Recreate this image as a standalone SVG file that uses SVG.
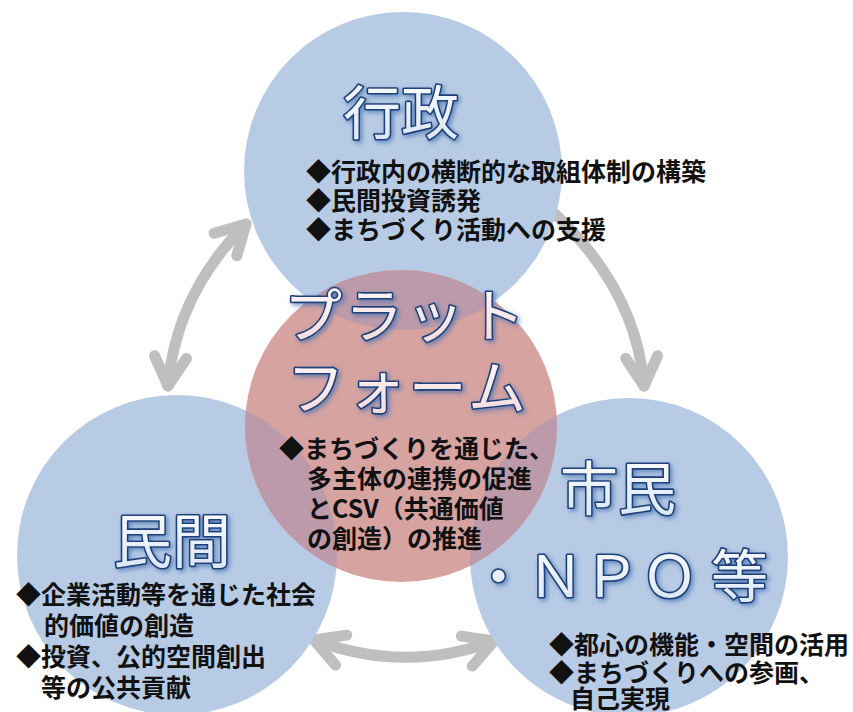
<svg xmlns="http://www.w3.org/2000/svg" width="853" height="712" viewBox="0 0 853 712">
<defs>
<style>
.blue{fill:#b8cbe5;}
.red{fill:#d6a3a1;}
.ov{fill:#bc9aa9;}
.title{font-family:"Noto Sans CJK JP","Noto Sans",sans-serif;font-weight:400;stroke:#1f3f77;stroke-width:3.2;paint-order:stroke;stroke-linejoin:round;filter:url(#glow);}
.tb{fill:url(#gb);}
.tp{fill:url(#gp);}
.body{font-family:"Noto Sans CJK JP","Noto Sans",sans-serif;font-weight:700;font-size:25px;fill:#111;}
.conn{fill:none;stroke:#bfbfbf;stroke-width:11;stroke-linecap:round;}
</style>
<linearGradient id="gb" x1="0" y1="0" x2="0" y2="1">
<stop offset="0" stop-color="#ffffff"/><stop offset="1" stop-color="#d6e4f6"/>
</linearGradient>
<linearGradient id="gp" x1="0" y1="0" x2="0" y2="1">
<stop offset="0" stop-color="#ffffff"/><stop offset="1" stop-color="#f4d6d8"/>
</linearGradient>
<filter id="glow" x="-20%" y="-30%" width="140%" height="160%">
<feGaussianBlur in="SourceAlpha" stdDeviation="2.5" result="b"/>
<feOffset in="b" dx="1.5" dy="2" result="o"/>
<feFlood flood-color="#3f6fb0" flood-opacity="0.75"/>
<feComposite in2="o" operator="in" result="s"/>
<feMerge><feMergeNode in="s"/><feMergeNode in="SourceGraphic"/></feMerge>
</filter>
<clipPath id="redclip"><circle cx="401" cy="426" r="156"/></clipPath>
<marker id="ah" markerUnits="userSpaceOnUse" orient="auto-start-reverse" refX="0" refY="0" markerWidth="80" markerHeight="80" viewBox="-40 -40 80 80" overflow="visible">
<path d="M-29,-16 L0,0 L-29,16" fill="none" stroke="#bfbfbf" stroke-width="11" stroke-linecap="round" stroke-linejoin="round"/>
</marker>
</defs>
<rect width="853" height="712" fill="#ffffff"/>

<g id="connectors">
<path class="conn" d="M168,386 Q176,294 246,224" marker-start="url(#ah)" marker-end="url(#ah)"/>
<path class="conn" d="M545,205 Q636,285 644,386" marker-end="url(#ah)"/>
<path class="conn" d="M314,640 Q405,674 494,641" marker-start="url(#ah)" marker-end="url(#ah)"/>
</g>

<g id="node-gyosei">
<circle class="blue" cx="403" cy="171" r="159"/>
<text class="title tb" x="343" y="134" font-size="58">行政</text>
<text class="body" x="306" y="181">◆行政内の横断的な取組体制の構築</text>
<text class="body" x="306" y="210">◆民間投資誘発</text>
<text class="body" x="306" y="239">◆まちづくり活動への支援</text>
</g>

<g id="node-minkan">
<circle class="blue" cx="177" cy="555" r="160"/>
<text class="title tb" x="113" y="563" font-size="59">民間</text>
<text class="body" x="16" y="604">◆企業活動等を通じた社会</text>
<text class="body" x="44" y="635">的価値の創造</text>
<text class="body" x="16" y="666">◆投資、公的空間創出</text>
<text class="body" x="41" y="697">等の公共貢献</text>
</g>

<g id="node-shimin">
<circle class="blue" cx="629" cy="557" r="159"/>
<text class="title tb" x="560" y="510" font-size="58">市民</text>
<text class="title tb" x="470 527 583 641 711" y="597" font-size="57">・ＮＰＯ等</text>
<text class="body" x="549" y="654">◆都心の機能・空間の活用</text>
<text class="body" x="549" y="682">◆まちづくりへの参画、</text>
<text class="body" x="570" y="708">自己実現</text>
</g>

<g id="node-platform">
<circle class="red" cx="401" cy="426" r="156"/>
<g clip-path="url(#redclip)">
<circle class="ov" cx="403" cy="171" r="159"/>
<circle class="ov" cx="177" cy="555" r="160"/>
<circle class="ov" cx="629" cy="557" r="159"/>
</g>
<text class="title tp" x="406" y="337" font-size="58" text-anchor="middle" letter-spacing="3">プラット</text>
<text class="title tp" x="408" y="409" font-size="58" text-anchor="middle" letter-spacing="3">フォーム</text>
<text class="body" x="279" y="458" font-size="24.5px">◆まちづくりを通じた、</text>
<text class="body" x="307" y="488">多主体の連携の促進</text>
<text class="body" x="307" y="518">とCSV（共通価値</text>
<text class="body" x="307" y="548">の創造）の推進</text>
</g>
</svg>
